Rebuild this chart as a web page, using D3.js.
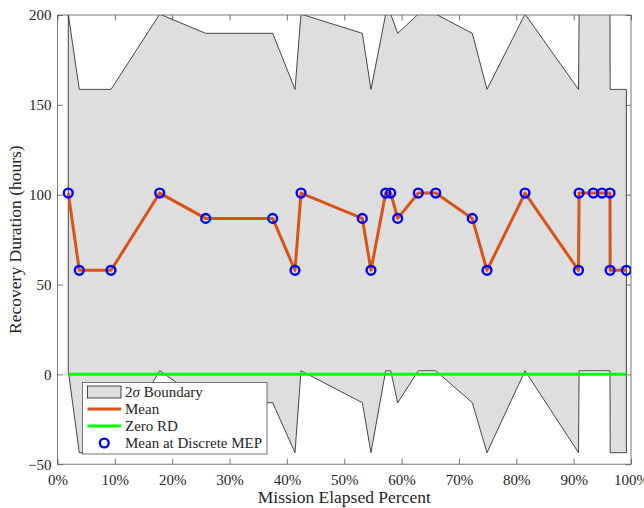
<!DOCTYPE html>
<html>
<head>
<meta charset="utf-8">
<script src="https://cdn.jsdelivr.net/npm/d3@7"></script>
<style>
body{margin:0;background:#fff;}
svg{display:block;}
</style>
</head>
<body>
<script>
// dados
var mep = [1.88, 3.80, 9.33, 17.82, 25.84, 37.52, 41.41, 42.46, 53.15, 54.66, 57.23, 58.10, 59.32, 62.91, 65.95, 72.33, 74.89, 81.52, 90.85, 90.95, 93.43, 94.94, 96.34, 96.36, 99.2];
var meanRD = [100.9, 57.9, 57.9, 100.9, 86.8, 86.8, 57.9, 100.9, 86.8, 57.9, 100.9, 100.9, 86.8, 100.9, 100.9, 86.8, 57.9, 100.9, 57.9, 100.9, 100.9, 100.9, 100.9, 57.9, 57.9];
var upperRD = [200.5, 158.6, 158.6, 200.5, 189.8, 189.8, 158.6, 200.5, 189.8, 158.6, 200.5, 200.5, 189.8, 200.5, 200.5, 189.8, 158.6, 200.5, 158.6, 200.5, 200.5, 200.5, 200.5, 158.6, 158.6];
var lowerRD = [2.0, -43.6, -43.6, 2.0, -15.8, -15.8, -43.6, 2.0, -15.8, -43.6, 2.0, 2.0, -15.8, 2.0, 2.0, -15.8, -43.6, 2.0, -43.6, 2.0, 2.0, 2.0, 2.0, -43.6, -43.6];
var zeroX = [1.88, 99.2];
var zeroY = [0, 0];
var xTicks = [0, 10, 20, 30, 40, 50, 60, 70, 80, 90, 100];
var yTicks = [-50, 0, 50, 100, 150, 200];
var legendLabels = ["Boundary", "Mean", "Zero RD", "Mean at Discrete MEP"];

var w = 644;
var h = 508;
var pLeft = 57.5, pRight = 631, pTop = 15, pBottom = 464.2;
var axisColor = "#262626";
var font = "'Liberation Serif', 'Times New Roman', serif";

var svg = d3.select("body").append("svg").attr("width", w).attr("height", h);

//escalas
var xScale = d3.scaleLinear().domain([0, 100]).range([pLeft, pRight]);
var yScale = d3.scaleLinear().domain([-50, 200]).range([pBottom, pTop]);

svg.append("clipPath").attr("id", "clip")
  .append("rect")
  .attr("x", pLeft).attr("y", pTop)
  .attr("width", pRight - pLeft).attr("height", pBottom - pTop);

var plot = svg.append("g").attr("clip-path", "url(#clip)");

// faixa 2 sigma
var band = [];
mep.forEach(function(d, i){ band.push([d, upperRD[i]]); });
for (var i = mep.length - 1; i >= 0; i--) { band.push([mep[i], lowerRD[i]]); }

plot.append("path")
  .datum(band)
  .attr("d", d3.line().x(function(d){ return xScale(d[0]); }).y(function(d){ return yScale(d[1]); }).curve(d3.curveLinearClosed))
  .attr("fill", "#dedede")
  .attr("stroke", "#1a1a1a")
  .attr("stroke-width", 0.8);

// media
var line = d3.line()
  .x(function(d){ return xScale(d[0]); })
  .y(function(d){ return yScale(d[1]); });

plot.append("path")
  .datum(mep.map(function(d, i){ return [d, meanRD[i]]; }))
  .attr("d", line)
  .attr("fill", "none")
  .attr("stroke", "#D95319")
  .attr("stroke-width", 3)
  .attr("stroke-linejoin", "round");

plot.append("path")
  .datum(zeroX.map(function(d, i){ return [d, zeroY[i]]; }))
  .attr("d", line)
  .attr("fill", "none")
  .attr("stroke", "#00ff00")
  .attr("stroke-width", 3);

plot.selectAll("circle")
  .data(mep)
  .enter()
  .append("circle")
  .attr("cx", function(d){ return xScale(d); })
  .attr("cy", function(d, i){ return yScale(meanRD[i]); })
  .attr("r", 4.4)
  .attr("fill", "none")
  .attr("stroke", "#0000ff")
  .attr("stroke-width", 2.4);

//eixos
var tickLen = 5.5;
var xAxisB = d3.axisBottom(xScale).tickValues(xTicks).tickSizeInner(-tickLen).tickSizeOuter(0)
  .tickFormat(function(d){ return d + "%"; }).tickPadding(10);
var xAxisT = d3.axisTop(xScale).tickValues(xTicks).tickSizeInner(-tickLen).tickSizeOuter(0).tickFormat("");
var yAxisL = d3.axisLeft(yScale).tickValues(yTicks).tickSizeInner(-tickLen).tickSizeOuter(0).tickPadding(6);
var yAxisR = d3.axisRight(yScale).tickValues(yTicks).tickSizeInner(-tickLen).tickSizeOuter(0).tickFormat("");

svg.append("g").attr("class", "axis").attr("transform", "translate(0," + pBottom + ")").call(xAxisB);
svg.append("g").attr("class", "axis").attr("transform", "translate(0," + pTop + ")").call(xAxisT);
svg.append("g").attr("class", "axis").attr("transform", "translate(" + pLeft + ",0)").call(yAxisL);
svg.append("g").attr("class", "axis").attr("transform", "translate(" + pRight + ",0)").call(yAxisR);

svg.selectAll(".axis .domain").remove();
svg.selectAll(".axis line").attr("stroke", "#555").attr("stroke-width", 0.8);
svg.selectAll(".axis text")
  .attr("font-family", font)
  .attr("font-size", "15px")
  .attr("fill", axisColor);

svg.append("rect")
  .attr("x", pLeft).attr("y", pTop)
  .attr("width", pRight - pLeft).attr("height", pBottom - pTop)
  .attr("fill", "none")
  .attr("stroke", "#555")
  .attr("stroke-width", 0.8);

//titulos
svg.append("text")
  .text("Mission Elapsed Percent")
  .attr("x", (pLeft + pRight) / 2)
  .attr("y", 503)
  .attr("text-anchor", "middle")
  .attr("font-family", font)
  .attr("font-size", "17.5px")
  .attr("fill", axisColor);

svg.append("text")
  .text("Recovery Duration (hours)")
  .attr("transform", "translate(21," + (pTop + pBottom) / 2 + ") rotate(-90)")
  .attr("text-anchor", "middle")
  .attr("font-family", font)
  .attr("font-size", "17.5px")
  .attr("fill", axisColor);

//legenda
var lx = 82.5, ly = 382.5, lw = 184.5, lh = 71.5;
var leg = svg.append("g");
leg.append("rect")
  .attr("x", lx).attr("y", ly).attr("width", lw).attr("height", lh)
  .attr("fill", "#fff").attr("stroke", "#555").attr("stroke-width", 0.8);

var rowY = [392, 409, 426, 443];
leg.append("rect")
  .attr("x", 87.5).attr("y", rowY[0] - 6).attr("width", 33.5).attr("height", 12)
  .attr("fill", "#dedede").attr("stroke", "#1a1a1a").attr("stroke-width", 0.8);
leg.append("line")
  .attr("x1", 87.5).attr("x2", 121).attr("y1", rowY[1]).attr("y2", rowY[1])
  .attr("stroke", "#D95319").attr("stroke-width", 3);
leg.append("line")
  .attr("x1", 87.5).attr("x2", 121).attr("y1", rowY[2]).attr("y2", rowY[2])
  .attr("stroke", "#00ff00").attr("stroke-width", 3);
leg.append("circle")
  .attr("cx", 104.3).attr("cy", rowY[3]).attr("r", 4.4)
  .attr("fill", "none").attr("stroke", "#0000ff").attr("stroke-width", 2.4);

leg.selectAll("text.lab")
  .data(legendLabels)
  .enter()
  .append("text")
  .attr("class", "lab")
  .attr("x", 125)
  .attr("y", function(d, i){ return rowY[i]; })
  .attr("dy", "0.33em")
  .attr("font-family", font)
  .attr("font-size", "15px")
  .attr("fill", axisColor)
  .each(function(d, i){
    var t = d3.select(this);
    if (i == 0) {
      t.append("tspan").text("2");
      t.append("tspan").text("\u03c3").attr("font-style", "italic");
      t.append("tspan").text(" " + d);
    } else {
      t.text(d);
    }
  });
</script>
</body>
</html>
